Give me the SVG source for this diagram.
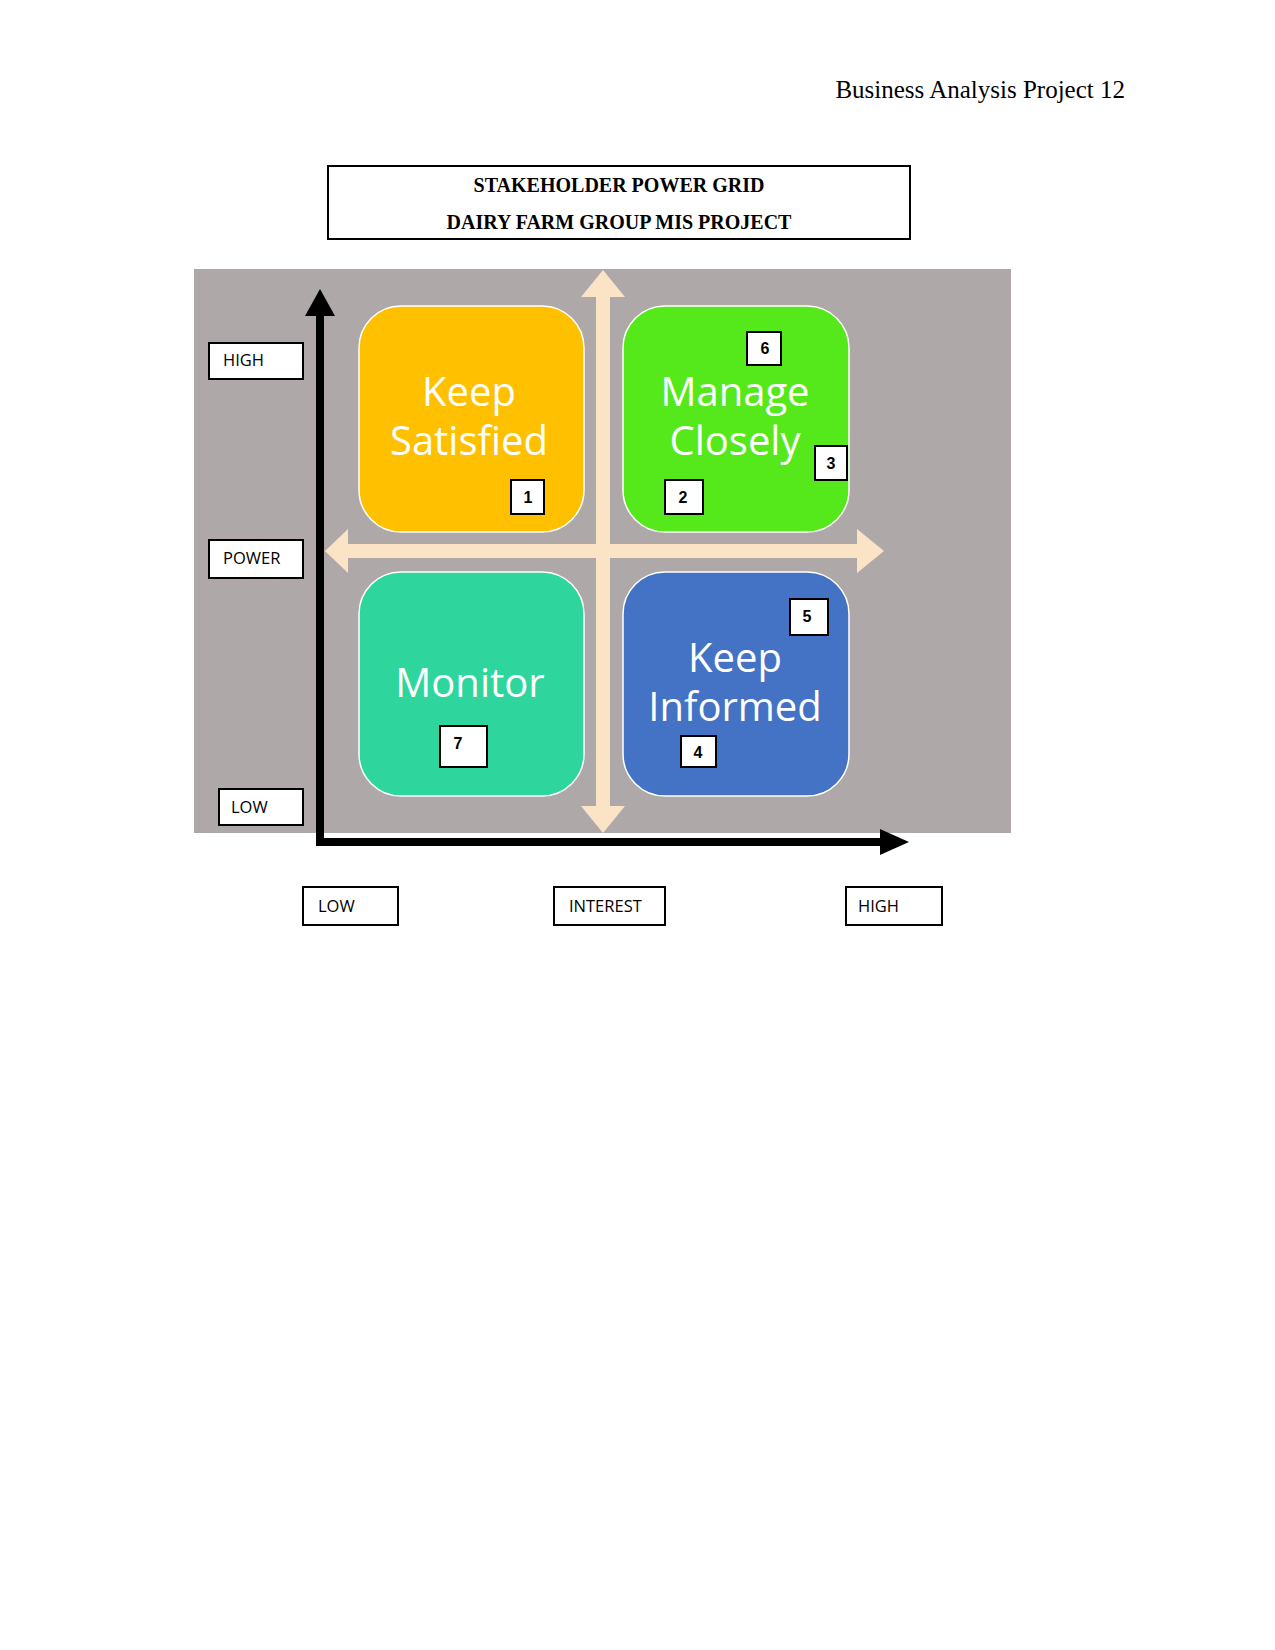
<svg xmlns="http://www.w3.org/2000/svg" width="1275" height="1650" viewBox="0 0 1275 1650">
<style>
.hdr{font-family:"Liberation Serif",serif;font-size:25px;fill:#000}
.ttl{font-family:"Liberation Serif",serif;font-size:20px;font-weight:bold;fill:#000;text-anchor:middle}
.quad{stroke:#ffffff;stroke-width:1.5}
.qt{font-family:"Open Sans","Liberation Sans",sans-serif;font-size:40px;fill:#ffffff;text-anchor:middle}
.nb{fill:#ffffff;stroke:#000;stroke-width:2}
.nt{font-family:"Liberation Sans",sans-serif;font-size:16px;font-weight:bold;fill:#000;text-anchor:middle}
.lb{fill:#ffffff;stroke:#000;stroke-width:2}
.lt{font-family:"Open Sans","Liberation Sans",sans-serif;font-size:16.5px;fill:#000}
.beige{fill:#FBE3C6}
</style>
<rect width="1275" height="1650" fill="#ffffff"/>
<text class="hdr" x="1125" y="98" text-anchor="end">Business Analysis Project 12</text>
<g id="title">
<rect x="328" y="166" width="582" height="73" fill="#ffffff" stroke="#000" stroke-width="2"/>
<text class="ttl" x="619" y="192">STAKEHOLDER POWER GRID</text>
<text class="ttl" x="619" y="229">DAIRY FARM GROUP MIS PROJECT</text>
</g>
<rect id="background" x="194" y="269" width="817" height="564" fill="#AEA9A8"/>
<g id="connectors">
<g id="cross" class="beige">
<rect x="596" y="295" width="14" height="513"/>
<polygon points="603,270 625,297 581,297"/>
<polygon points="603,833 625,806 581,806"/>
<rect x="346" y="544" width="513" height="14"/>
<polygon points="325,551 348,529 348,573"/>
<polygon points="884,551 857,529 857,573"/>
</g>
<g id="y-axis">
<rect x="316" y="312" width="8" height="534" fill="#000"/>
<polygon points="320,289 335,316 305,316" fill="#000"/>
</g>
<g id="x-axis">
<rect x="316" y="838" width="566" height="8" fill="#000"/>
<polygon points="909,842 880,829 880,855" fill="#000"/>
</g>
</g>
<g id="keep-satisfied">
<rect class="quad" x="359" y="306" width="225" height="226" rx="42" fill="#FFC000"/>
<text class="qt" x="469" y="406">Keep</text>
<text class="qt" x="469" y="455">Satisfied</text>
</g>
<g id="manage-closely">
<rect class="quad" x="623" y="306" width="226" height="226" rx="42" fill="#55E81A"/>
<text class="qt" x="735" y="406">Manage</text>
<text class="qt" x="735" y="455">Closely</text>
</g>
<g id="monitor">
<rect class="quad" x="359" y="572" width="225" height="224" rx="42" fill="#2ED69E"/>
<text class="qt" x="470" y="697">Monitor</text>
</g>
<g id="keep-informed">
<rect class="quad" x="623" y="572" width="226" height="224" rx="42" fill="#4472C4"/>
<text class="qt" x="735" y="672">Keep</text>
<text class="qt" x="735" y="721">Informed</text>
</g>
<g id="n1"><rect class="nb" x="511" y="480" width="33" height="34"/><text class="nt" x="528" y="503">1</text></g>
<g id="n2"><rect class="nb" x="665" y="480" width="38" height="34"/><text class="nt" x="683" y="503">2</text></g>
<g id="n3"><rect class="nb" x="815" y="446" width="32" height="34"/><text class="nt" x="831" y="469">3</text></g>
<g id="n4"><rect class="nb" x="681" y="736" width="35" height="31"/><text class="nt" x="698" y="758">4</text></g>
<g id="n5"><rect class="nb" x="790" y="599" width="38" height="36"/><text class="nt" x="807" y="622">5</text></g>
<g id="n6"><rect class="nb" x="747" y="332" width="34" height="33"/><text class="nt" x="765" y="354">6</text></g>
<g id="n7"><rect class="nb" x="440" y="726" width="47" height="41"/><text class="nt" x="458" y="749" font-weight="normal">7</text></g>
<g id="label-high-y"><rect class="lb" x="209" y="343" width="94" height="36"/><text class="lt" x="223" y="366">HIGH</text></g>
<g id="label-power"><rect class="lb" x="209" y="540" width="94" height="38"/><text class="lt" x="223" y="564">POWER</text></g>
<g id="label-low-y"><rect class="lb" x="219" y="789" width="84" height="36"/><text class="lt" x="231" y="813">LOW</text></g>
<g id="label-low-x"><rect class="lb" x="303" y="887" width="95" height="38"/><text class="lt" x="318" y="912">LOW</text></g>
<g id="label-interest"><rect class="lb" x="554" y="887" width="111" height="38"/><text class="lt" x="569" y="912">INTEREST</text></g>
<g id="label-high-x"><rect class="lb" x="846" y="887" width="96" height="38"/><text class="lt" x="858" y="912">HIGH</text></g>
</svg>
